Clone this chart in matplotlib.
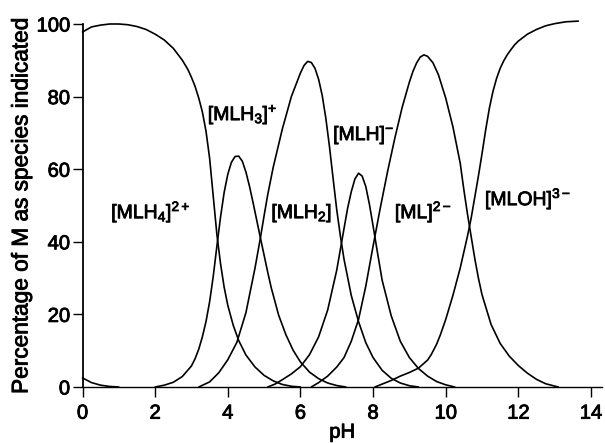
import matplotlib
matplotlib.use("Agg")
import matplotlib.pyplot as plt
import matplotlib.patheffects as pe

plt.rcParams['font.family'] = ['Liberation Sans', 'DejaVu Sans']
plt.rcParams['mathtext.fontset'] = 'custom'
plt.rcParams['mathtext.rm'] = 'Liberation Sans'
plt.rcParams['mathtext.it'] = 'Liberation Sans:italic'
plt.rcParams['mathtext.bf'] = 'Liberation Sans:bold'

# ---- data (pH, % of M) ----
ph_x0 = [0, 0.25, 0.5, 0.75, 1.0]
pct_x0 = [2.5, 1.2, 0.5, 0.15, 0]

ph_mlh4 = [0, 0.25, 0.5, 0.75, 1.0, 1.25, 1.5, 1.75, 2.0, 2.25, 2.5, 2.75, 2.9, 3.0, 3.1,
           3.2, 3.3, 3.4, 3.5, 3.6, 3.7, 3.8, 3.9, 4.0, 4.15, 4.3, 4.5, 4.75, 5.0, 5.25,
           5.5, 5.75, 6.0]
pct_mlh4 = [97.8, 99.2, 99.7, 100, 100, 99.8, 99.3, 98.5, 97.2, 95.6, 93.3, 90.0, 87.5, 85.3, 82.8,
            79.6, 75.8, 70.5, 63, 52.5, 42, 34, 27.5, 22.5, 17, 12.8, 8.8, 5.5, 3.2, 1.7,
            0.7, 0.2, 0]

ph_mlh3 = [2.0, 2.25, 2.5, 2.75, 3.0, 3.1, 3.2, 3.3, 3.4, 3.5, 3.6, 3.7, 3.8, 3.9, 4.0, 4.1,
           4.2, 4.3, 4.4, 4.5, 4.6, 4.7, 4.8, 4.9, 5.0, 5.1, 5.2, 5.4, 5.6, 5.8, 6.0, 6.25,
           6.5, 6.75, 7.0, 7.25]
pct_mlh3 = [0, 0.5, 1.3, 2.9, 5.8, 7.8, 10.4, 13.8, 18, 23.5, 30.5, 38.8, 46.8, 53.6, 58.6, 61.9,
            63.5, 63.6, 62.2, 59.2, 55.2, 50.6, 45.8, 41, 36.3, 31.6, 27.2, 19.8, 14.4, 10.1, 6.9, 4.1,
            2.3, 1.1, 0.4, 0]

ph_mlh2 = [3.2, 3.5, 3.75, 4.0, 4.25, 4.5, 4.75, 4.9, 5.0, 5.1, 5.25, 5.5, 5.75, 6.0, 6.1,
           6.2, 6.3, 6.4, 6.5, 6.6, 6.7, 6.8, 6.9, 7.0, 7.1, 7.2, 7.4, 7.6, 7.8, 8.0, 8.25,
           8.5, 8.75, 9.0, 9.25]
pct_mlh2 = [0, 1.4, 3.9, 7.5, 12.3, 20.5, 32.8, 41.2, 47.2, 53, 60.5, 71, 80, 86.5, 88.6,
            89.7, 89.4, 87.8, 84.8, 80.3, 74, 66.2, 57.4, 48.8, 41.6, 35.2, 25.2, 18, 12.2, 8.1, 4.6,
            2.4, 1.1, 0.35, 0]

ph_mlh = [5.1, 5.3, 5.5, 5.75, 6.0, 6.25, 6.5, 6.75, 7.0, 7.15, 7.3, 7.4, 7.5, 7.6, 7.7,
          7.8, 7.9, 8.0, 8.1, 8.25, 8.5, 8.75, 9.0, 9.25, 9.5, 9.75, 10.0, 10.25]
pct_mlh = [0, 0.8, 2, 3.6, 5.6, 8.9, 13.8, 21.2, 32.2, 40.8, 49.3, 53.8, 57.3, 58.9, 58.1,
           55.2, 50.3, 44.4, 38.3, 29.4, 19.6, 12.6, 8.1, 5.1, 3.0, 1.5, 0.6, 0]

ph_ml = [6.3, 6.5, 6.75, 7.0, 7.2, 7.4, 7.6, 7.8, 8.0, 8.2, 8.4, 8.6, 8.8, 9.0, 9.1, 9.2,
         9.3, 9.4, 9.5, 9.65, 9.8, 10.0, 10.2, 10.4, 10.5, 10.6, 10.7, 10.8, 10.9, 11.0,
         11.25, 11.5, 11.75, 12.0, 12.25, 12.5, 12.75, 13.0, 13.1]
pct_ml = [0, 1.2, 3, 5.5, 8.1, 12.6, 18.6, 27.8, 38.8, 49.4, 59.4, 68.6, 77, 84, 87, 89.3,
          90.9, 91.5, 91.1, 89.3, 86, 79.6, 71.6, 61.6, 54.3, 47.6, 41.5, 35.4, 30, 25.4,
          17.2, 12, 8.5, 5.9, 3.8, 2.1, 0.9, 0.25, 0]

ph_mloh = [8.05, 8.25, 8.5, 8.75, 9.0, 9.25, 9.5, 9.6, 9.75, 9.85, 10.0, 10.2, 10.4, 10.5,
           10.6, 10.7, 10.8, 10.9, 11.0, 11.1, 11.2, 11.3, 11.4, 11.5, 11.6, 11.7, 11.8,
           11.9, 12.0, 12.25, 12.5, 12.75, 13.0, 13.3, 13.65]
pct_mloh = [0, 0.8, 1.8, 3, 4, 5.2, 7.4, 8.9, 11.8, 14.3, 18.6, 25.3, 32.8, 37.2,
            41.6, 46.5, 52.3, 58.1, 64.3, 70.8, 76.7, 81.4, 85, 87.8, 89.9, 91.6, 93,
            94.3, 95.3, 97.2, 98.5, 99.5, 100.1, 100.6, 100.8]

labels = [r'[MLH$\mathregular{_4}$]$\mathregular{^{2+}}$',
          r'[MLH$\mathregular{_3}$]$\mathregular{^{+}}$',
          r'[MLH$\mathregular{_2}$]',
          r'[MLH]$\mathregular{^{-}}$',
          r'[ML]$\mathregular{^{2-}}$',
          r'[MLOH]$\mathregular{^{3-}}$']
label_x = [0.79, 3.45, 5.2, 6.9, 8.6, 11.08]
label_y = [46.5, 73.5, 46.5, 68, 46.5, 50.1]

xticks = [0, 2, 4, 6, 8, 10, 12, 14]
yticks = [0, 20, 40, 60, 80, 100]

# ---- figure ----
W, H = 605, 443
fig = plt.figure(figsize=(W / 100, H / 100), dpi=100)
x0px, x14px = 82.5, 591.0
ppu = (x14px - x0px) / 14.0
xmax = 14.3
ax = fig.add_axes([x0px / W, 56 / H, xmax * ppu / W, 363 / H])

series = [(ph_x0, pct_x0), (ph_mlh4, pct_mlh4), (ph_mlh3, pct_mlh3), (ph_mlh2, pct_mlh2),
          (ph_mlh, pct_mlh), (ph_ml, pct_ml), (ph_mloh, pct_mloh)]
for xs, ys in series:
    ax.plot(xs, ys, color='black', lw=1.2, clip_on=False, solid_joinstyle='round',
            solid_capstyle='round')

thick = [pe.withStroke(linewidth=0.6, foreground='black')]
for t, x, y in zip(labels, label_x, label_y):
    ax.text(x, y, t, fontsize=14, ha='left', va='baseline', color='black',
            path_effects=thick)

ax.set_xlim(0, xmax)
ax.set_ylim(0, 100)
ax.set_xticks(xticks)
ax.set_yticks(yticks)
ax.tick_params(axis='both', direction='out', length=7, width=1.0, labelsize=14.5,
               color='black')
ax.tick_params(axis='x', pad=5)
ax.tick_params(axis='y', pad=2)
for lab in ax.get_xticklabels() + ax.get_yticklabels():
    lab.set_path_effects(thick)
for s in ['top', 'right']:
    ax.spines[s].set_visible(False)
ax.spines['left'].set_linewidth(1.3)
ax.spines['bottom'].set_linewidth(1.0)
ax.set_xlabel('pH', fontsize=14.5, labelpad=0, path_effects=thick)
ax.set_ylabel('Percentage of M as species indicated', fontsize=16.3, labelpad=3,
              path_effects=thick)

fig.savefig('out.png', dpi=100)
